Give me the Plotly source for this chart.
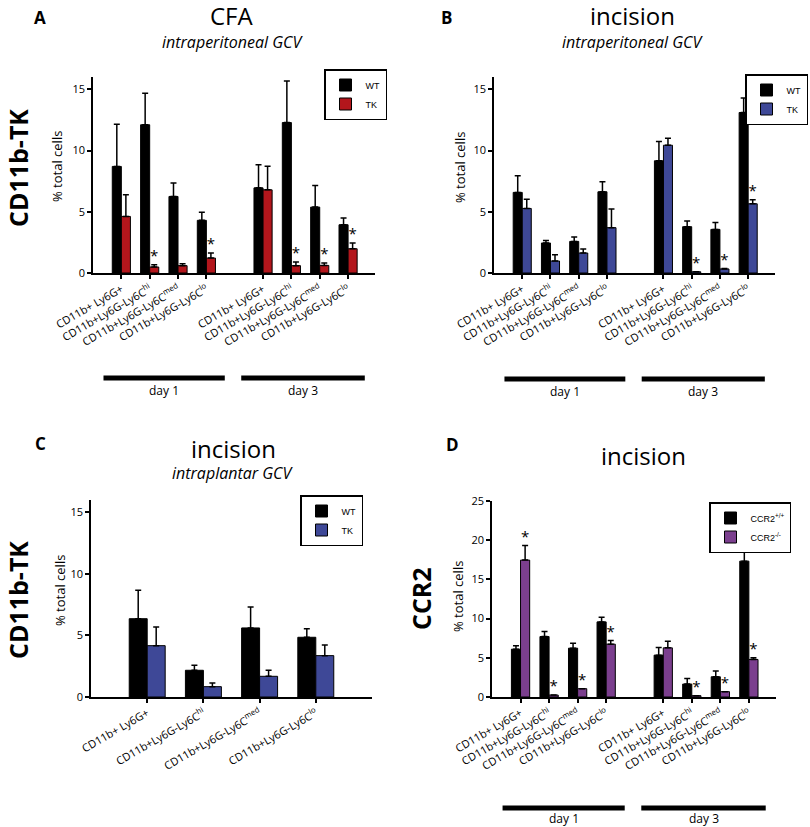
import plotly.graph_objects as go

# category labels
cats = ['CD11b+ Ly6G+', 'CD11b+Ly6G-Ly6C<sup>hi</sup>',
        'CD11b+Ly6G-Ly6C<sup>med</sup>', 'CD11b+Ly6G-Ly6C<sup>lo</sup>']
pos_two_days = [0, 1, 2, 3, 5, 6, 7, 8]
pos_one_day = [0, 1, 2, 3]

# panel A - CFA, intraperitoneal GCV
a_wt = [8.7, 12.1, 6.25, 4.3, 6.95, 12.28, 5.38, 3.94]
a_wt_err = [12.15, 14.67, 7.34, 4.95, 8.83, 15.68, 7.15, 4.48]
a_tk = [4.62, 0.49, 0.6, 1.22, 6.79, 0.6, 0.62, 1.98]
a_tk_err = [6.39, 0.68, 0.76, 1.63, 8.72, 0.9, 0.82, 2.45]
a_star = [False, True, False, True, False, True, True, True]

# panel B - incision, intraperitoneal GCV
b_wt = [6.58, 2.45, 2.58, 6.63, 9.16, 3.78, 3.56, 13.1]
b_wt_err = [7.93, 2.66, 2.93, 7.45, 10.73, 4.24, 4.13, 14.29]
b_tk = [5.27, 0.98, 1.63, 3.7, 10.43, 0.1, 0.33, 5.65]
b_tk_err = [6.03, 1.49, 1.96, 5.22, 11.0, 0.1, 0.36, 5.98]
b_star = [False, False, False, False, False, True, True, True]

# panel C - incision, intraplantar GCV
c_wt = [6.36, 2.17, 5.61, 4.85]
c_wt_err = [8.67, 2.57, 7.31, 5.55]
c_tk = [4.17, 0.84, 1.68, 3.36]
c_tk_err = [5.69, 1.14, 2.17, 4.22]

# panel D - incision, CCR2
d_wt = [6.1, 7.71, 6.23, 9.58, 5.34, 1.65, 2.58, 17.33]
d_wt_err = [6.53, 8.35, 6.86, 10.17, 6.31, 2.37, 3.31, 19.32]
d_ko = [17.46, 0.25, 1.06, 6.74, 6.27, 0.17, 0.68, 4.79]
d_ko_err = [19.32, 0.25, 1.06, 7.2, 7.12, 0.17, 0.68, 5.0]
d_star = [True, True, True, True, False, True, True, True]

RED = '#b3161c'
BLUE = '#3e4897'
PURPLE = '#7b3f8e'
FONT = 'Open Sans'
W = 0.32

fig = go.Figure()


def add_pair(ax, pos, wt, wt_err, tk, tk_err, color, names, legend, stars=None):
    xa, ya = ('x', 'y') if ax == 1 else ('x%d' % ax, 'y%d' % ax)
    fig.add_trace(go.Bar(
        x=pos, y=wt, width=W, offset=-W, marker=dict(color='black', line=dict(color='black', width=1)),
        error_y=dict(type='data', symmetric=False, array=[e - v for e, v in zip(wt_err, wt)],
                     arrayminus=[0] * len(wt), color='black', thickness=1.5, width=3),
        name=names[0], xaxis=xa, yaxis=ya, legend=legend))
    fig.add_trace(go.Bar(
        x=pos, y=tk, width=W, offset=0, marker=dict(color=color, line=dict(color='black', width=1)),
        error_y=dict(type='data', symmetric=False, array=[e - v for e, v in zip(tk_err, tk)],
                     arrayminus=[0] * len(tk), color='black', thickness=1.5, width=3),
        name=names[1], xaxis=xa, yaxis=ya, legend=legend))
    if stars:
        sx = [p + W / 2 for p, s in zip(pos, stars) if s]
        sy = [e for e, s in zip(tk_err, stars) if s]
        fig.add_trace(go.Scatter(
            x=sx, y=sy, mode='text', text=['*'] * len(sx), textposition='top center',
            textfont=dict(size=15, color='black', family=FONT), showlegend=False,
            xaxis=xa, yaxis=ya, cliponaxis=False))


add_pair(1, pos_two_days, a_wt, a_wt_err, a_tk, a_tk_err, RED, ['WT', 'TK'], 'legend', a_star)
add_pair(2, pos_two_days, b_wt, b_wt_err, b_tk, b_tk_err, BLUE, ['WT', 'TK'], 'legend2', b_star)
add_pair(3, pos_one_day, c_wt, c_wt_err, c_tk, c_tk_err, BLUE, ['WT', 'TK'], 'legend3')
add_pair(4, pos_two_days, d_wt, d_wt_err, d_ko, d_ko_err, PURPLE,
         ['CCR2<sup>+/+</sup>', 'CCR2<sup>-/-</sup>'], 'legend4', d_star)


def px(v):
    return v / 810


def py(v):
    return 1 - v / 827


axis_common = dict(showline=True, linecolor='black', linewidth=1.5, ticks='outside',
                   tickcolor='black', ticklen=4, tickwidth=1.5, showgrid=False, zeroline=False,
                   automargin=False)

domains = {
    1: ([px(93), px(375)], [py(273), py(77)], [-1.0, 8.95], pos_two_days, cats * 2, [0, 16], [0, 5, 10, 15]),
    2: ([px(494), px(775)], [py(273), py(77)], [-1.0, 8.95], pos_two_days, cats * 2, [0, 16], [0, 5, 10, 15]),
    3: ([px(91), px(372)], [py(697), py(500)], [-1.0, 4.0], pos_one_day, cats, [0, 16], [0, 5, 10, 15]),
    4: ([px(492), px(776)], [py(697), py(501)], [-1.0, 8.95], pos_two_days, cats * 2, [0, 25], [0, 5, 10, 15, 20, 25]),
}
layout_axes = {}
for k, (xd, yd, xr, tv, tt, yr, ytv) in domains.items():
    xn = 'xaxis' if k == 1 else 'xaxis%d' % k
    yn = 'yaxis' if k == 1 else 'yaxis%d' % k
    ya = 'y' if k == 1 else 'y%d' % k
    xa = 'x' if k == 1 else 'x%d' % k
    layout_axes[xn] = dict(axis_common, domain=xd, range=xr, tickvals=tv, ticktext=tt,
                           tickangle=-30, anchor=ya, tickfont=dict(size=11, family=FONT, color='black'))
    layout_axes[yn] = dict(axis_common, domain=yd, range=yr, tickvals=ytv, anchor=xa,
                           tickfont=dict(size=11, family=FONT, color='black'))

fig.update_layout(**layout_axes)

leg_common = dict(bordercolor='black', borderwidth=1.5, bgcolor='white',
                  font=dict(size=9, family='Arial', color='black'),
                  xanchor='right', yanchor='top', tracegroupgap=0, itemwidth=30)
fig.update_layout(
    legend=dict(leg_common, x=px(387), y=py(69)),
    legend2=dict(leg_common, x=px(808), y=py(74)),
    legend3=dict(leg_common, x=px(363), y=py(495)),
    legend4=dict(leg_common, x=px(791), y=py(502)),
)

# day bars under the category labels
shapes = []
annos = []
for ax, yline, ytext in [('x', 378, 390), ('x2', 379, 391), ('x4', 808, 818)]:
    for x0, x1, label in [(-0.63, 3.65, 'day 1'), (4.23, 8.59, 'day 3')]:
        shapes.append(dict(type='line', xref=ax, yref='paper', x0=x0, x1=x1,
                           y0=py(yline), y1=py(yline), line=dict(color='black', width=5)))
        annos.append(dict(xref=ax, yref='paper', x=(x0 + x1) / 2, y=py(ytext), text=label,
                          showarrow=False, yanchor='middle', font=dict(size=12, family=FONT)))


def note(x, y, text, size, bold=False, angle=0):
    annos.append(dict(xref='paper', yref='paper', x=px(x), y=py(y), text=text, showarrow=False,
                      textangle=angle, xanchor='center', yanchor='middle',
                      font=dict(size=size, family=FONT, color='black',
                                weight='bold' if bold else 'normal')))


note(40, 17, 'A', 17, True)
note(232, 15, 'CFA', 24)
note(232, 42, '<i>intraperitoneal GCV</i>', 16)
note(18, 168, 'CD11b-TK', 25, True, -90)
note(57, 167, '% total cells', 13, False, -90)

note(447, 17, 'B', 17, True)
note(632, 15, 'incision', 24)
note(632, 42, '<i>intraperitoneal GCV</i>', 16)
note(460, 168, '% total cells', 13, False, -90)

note(40, 443, 'C', 17, True)
note(233, 449, 'incision', 24)
note(233, 473, '<i>intraplantar GCV</i>', 16)
note(18, 600, 'CD11b-TK', 25, True, -90)
note(60, 591, '% total cells', 13, False, -90)

note(452, 445, 'D', 17, True)
note(643, 455, 'incision', 24)
note(421, 598, 'CCR2', 25, True, -90)
note(458, 597, '% total cells', 13, False, -90)

fig.update_layout(
    width=810, height=827, margin=dict(l=0, r=0, t=0, b=0, autoexpand=False),
    plot_bgcolor='white', paper_bgcolor='white',
    font=dict(family=FONT, color='black'),
    shapes=shapes, annotations=annos,
)

# page body has a default 8px margin; drop it so the figure sits at the page corner
fig.write_html('out.html', config={'displayModeBar': False},
               post_script="document.body.style.margin='0';")
